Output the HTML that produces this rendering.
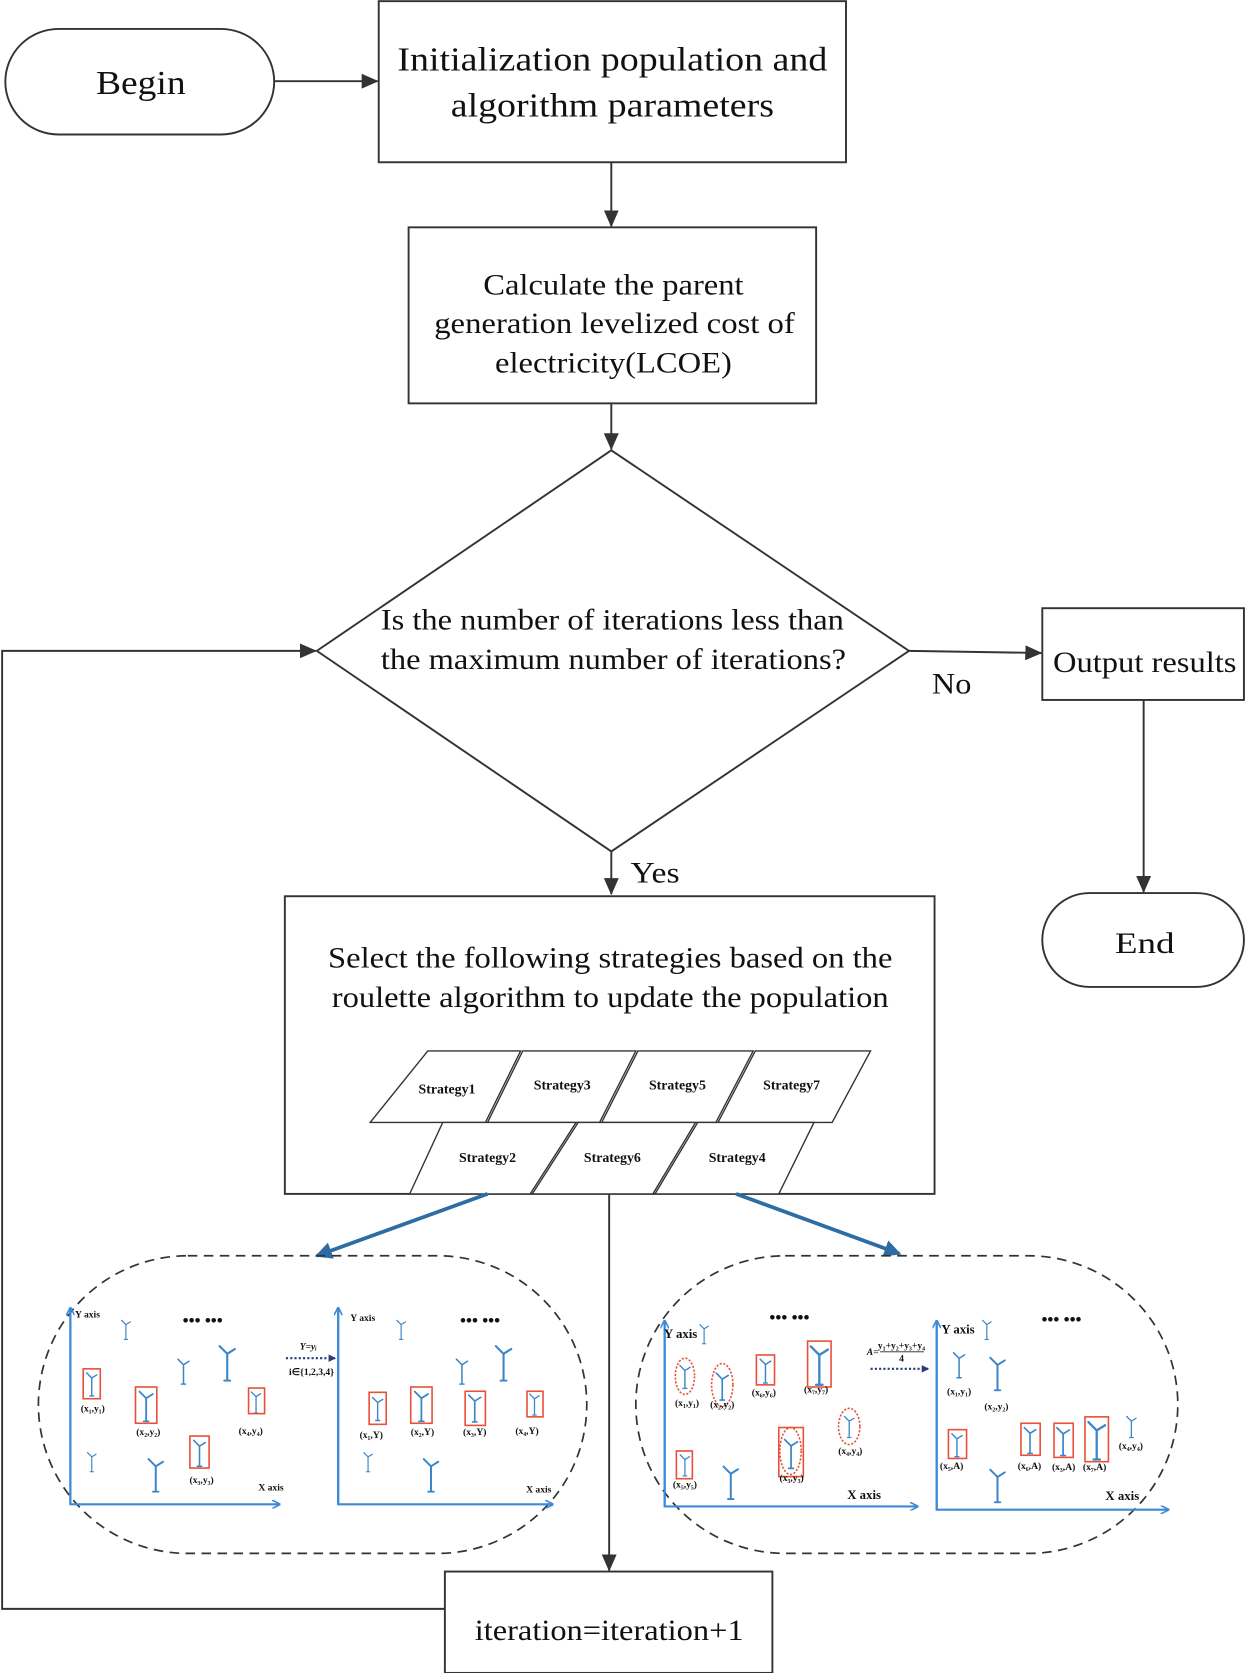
<!DOCTYPE html>
<html><head><meta charset="utf-8"><style>
html,body{margin:0;padding:0;background:#fff;}
svg{display:block;}
text{font-family:"Liberation Serif",serif;fill:#111;}
.s{font-size:13px;font-weight:bold;}
.t{font-size:9px;font-weight:bold;}
</style></head><body>
<svg width="1245" height="1673" viewBox="0 0 1167 1568" xmlns="http://www.w3.org/2000/svg">
<defs>
<marker id="ar" markerWidth="16" markerHeight="14" refX="15" refY="7" orient="auto" markerUnits="userSpaceOnUse"><path d="M0,0 L16,7 L0,14 z" fill="#333"/></marker>
<marker id="ar2" markerWidth="16" markerHeight="16" refX="14" refY="8" orient="auto" markerUnits="userSpaceOnUse"><path d="M0,0 L16,8 L0,16 z" fill="#2e6da4"/></marker>
<marker id="ab" markerWidth="8" markerHeight="8" refX="7" refY="4" orient="auto" markerUnits="userSpaceOnUse"><path d="M0,0 L8,4 L0,8" fill="none" stroke="#3b8ad6" stroke-width="1.5"/></marker>
<marker id="ad" markerWidth="7" markerHeight="7" refX="6" refY="3.5" orient="auto" markerUnits="userSpaceOnUse"><path d="M0,0 L7,3.5 L0,7 z" fill="#2a3a7a"/></marker>
<symbol id="tb" viewBox="0 0 20 40"><g stroke="#3a86c8" stroke-width="2.2" fill="none" stroke-linecap="round"><path d="M10,11 L2,3 M10,11 L18,6 M10,11 L10,39 M7,39 L13,39"/></g></symbol>
</defs>
<g stroke="#333" stroke-width="1.8" fill="none">
<rect x="5" y="27" width="252" height="99" rx="50"/>
<rect x="355" y="1" width="438" height="151"/>
<rect x="383" y="213" width="382" height="165"/>
<polygon points="573,422 852,610 573,798 297,610"/>
<rect x="977" y="570" width="189" height="86"/>
<rect x="977" y="837" width="189" height="88" rx="44"/>
<rect x="267" y="840" width="609" height="279"/>
<rect x="417" y="1473" width="307" height="95"/>
<line x1="257" y1="76" x2="354" y2="76" marker-end="url(#ar)"/>
<line x1="573" y1="152" x2="573" y2="212" marker-end="url(#ar)"/>
<line x1="573" y1="378" x2="573" y2="421" marker-end="url(#ar)"/>
<line x1="852" y1="610" x2="976" y2="612" marker-end="url(#ar)"/>
<line x1="1072" y1="656" x2="1072" y2="836" marker-end="url(#ar)"/>
<line x1="573" y1="798" x2="573" y2="838" marker-end="url(#ar)"/>
<line x1="571" y1="1119" x2="571" y2="1472" marker-end="url(#ar)"/>
<polyline points="417,1508 2,1508 2,610 296,610" marker-end="url(#ar)"/>
</g>
<g stroke="#333" stroke-width="1.3" fill="#fff">
<polygon points="347,1052 401,985 488,985 455,1052"/>
<polygon points="457,1052 490,985 596,985 562,1052"/>
<polygon points="564,1052 598,985 706,985 671,1052"/>
<polygon points="673,1052 708,985 816,985 780,1052"/>
<polygon points="384,1119 415,1052 540,1052 497,1119"/>
<polygon points="499,1119 542,1052 652,1052 612,1119"/>
<polygon points="614,1119 654,1052 763,1052 730,1119"/>
</g>
<g>
<text x="419" y="1025" text-anchor="middle" class="s">Strategy1</text>
<text x="527" y="1021" text-anchor="middle" class="s">Strategy3</text>
<text x="635" y="1021" text-anchor="middle" class="s">Strategy5</text>
<text x="742" y="1021" text-anchor="middle" class="s">Strategy7</text>
<text x="457" y="1089" text-anchor="middle" class="s">Strategy2</text>
<text x="574" y="1089" text-anchor="middle" class="s">Strategy6</text>
<text x="691" y="1089" text-anchor="middle" class="s">Strategy4</text>
</g>
<g font-size="32" text-anchor="middle">
<text x="132" y="88" textLength="84" lengthAdjust="spacingAndGlyphs">Begin</text>
<text x="574" y="66" textLength="403" lengthAdjust="spacingAndGlyphs">Initialization population and</text>
<text x="574" y="109" textLength="303" lengthAdjust="spacingAndGlyphs">algorithm parameters</text>
</g>
<g font-size="28" text-anchor="middle">
<text x="575" y="276" textLength="244" lengthAdjust="spacingAndGlyphs">Calculate the parent</text>
<text x="576" y="312" textLength="338" lengthAdjust="spacingAndGlyphs">generation levelized cost of</text>
<text x="575" y="349" textLength="222" lengthAdjust="spacingAndGlyphs">electricity(LCOE)</text>
<text x="574" y="590" textLength="434" lengthAdjust="spacingAndGlyphs">Is the number of iterations less than</text>
<text x="575" y="627" textLength="436" lengthAdjust="spacingAndGlyphs">the maximum number of iterations?</text>
<text x="1073" y="630" textLength="172" lengthAdjust="spacingAndGlyphs">Output results</text>
<text x="1073" y="893" textLength="56" lengthAdjust="spacingAndGlyphs">End</text>
<text x="892" y="650" textLength="37" lengthAdjust="spacingAndGlyphs">No</text>
<text x="614" y="827" textLength="46" lengthAdjust="spacingAndGlyphs">Yes</text>
<text x="572" y="907" textLength="529" lengthAdjust="spacingAndGlyphs">Select the following strategies based on the</text>
<text x="572" y="944" textLength="522" lengthAdjust="spacingAndGlyphs">roulette algorithm to update the population</text>
<text x="571" y="1537" textLength="252" lengthAdjust="spacingAndGlyphs">iteration=iteration+1</text>
</g>
<line x1="457" y1="1119" x2="297" y2="1177" stroke="#2e6da4" stroke-width="3.5" marker-end="url(#ar2)"/>
<line x1="690" y1="1119" x2="843" y2="1175" stroke="#2e6da4" stroke-width="3.5" marker-end="url(#ar2)"/>
<g stroke="#333" stroke-width="1.6" fill="none" stroke-dasharray="9,6">
<rect x="36" y="1177" width="514" height="279" rx="140"/>
<rect x="596" y="1177" width="508" height="279" rx="140"/>
</g>
<g stroke="#3b8ad6" stroke-width="2" fill="none">
<polyline points="66,1228 66,1410 262,1410" marker-end="url(#ab)"/>
<line x1="66" y1="1410" x2="66" y2="1226" marker-end="url(#ab)"/>
<polyline points="317,1228 317,1410 518,1410" marker-end="url(#ab)"/>
<line x1="317" y1="1410" x2="317" y2="1226" marker-end="url(#ab)"/>
<polyline points="623,1240 623,1412 860,1412" marker-end="url(#ab)"/>
<line x1="623" y1="1412" x2="623" y2="1238" marker-end="url(#ab)"/>
<polyline points="878,1240 878,1415 1095,1415" marker-end="url(#ab)"/>
<line x1="878" y1="1415" x2="878" y2="1238" marker-end="url(#ab)"/>
</g>
<use href="#tb" x="112" y="1236" width="12" height="20"/>
<use href="#tb" x="164" y="1272" width="16" height="26"/>
<use href="#tb" x="202" y="1259" width="22" height="36"/>
<use href="#tb" x="80" y="1284" width="12" height="26"/>
<use href="#tb" x="129" y="1302" width="16" height="31"/>
<use href="#tb" x="180" y="1348" width="14" height="27"/>
<use href="#tb" x="234" y="1303" width="12" height="22"/>
<use href="#tb" x="80" y="1360" width="12" height="20"/>
<use href="#tb" x="137" y="1365" width="18" height="34"/>
<use href="#tb" x="370" y="1236" width="12" height="20"/>
<use href="#tb" x="425" y="1272" width="16" height="26"/>
<use href="#tb" x="461" y="1259" width="22" height="36"/>
<use href="#tb" x="348" y="1306" width="12" height="28"/>
<use href="#tb" x="387" y="1302" width="16" height="31"/>
<use href="#tb" x="438" y="1305" width="14" height="29"/>
<use href="#tb" x="495" y="1305" width="12" height="22"/>
<use href="#tb" x="339" y="1360" width="12" height="20"/>
<use href="#tb" x="395" y="1365" width="18" height="34"/>
<g stroke="#e8503a" stroke-width="1.5" fill="none">
<rect x="78" y="1283" width="16" height="28"/>
<rect x="127" y="1300" width="20" height="34"/>
<rect x="178" y="1346" width="18" height="30"/>
<rect x="233" y="1301" width="15" height="24"/>
<rect x="346" y="1305" width="16" height="30"/>
<rect x="385" y="1300" width="20" height="34"/>
<rect x="436" y="1304" width="19" height="32"/>
<rect x="494" y="1304" width="15" height="24"/>
</g>
<g text-anchor="middle">
<text x="87" y="1323" class="t">(x₁,y₁)</text>
<text x="139" y="1345" class="t">(x₂,y₂)</text>
<text x="189" y="1390" class="t">(x₃,y₃)</text>
<text x="235" y="1344" class="t">(x₄,y₄)</text>
<text x="348" y="1348" class="t">(x₁,Y)</text>
<text x="396" y="1345" class="t">(x₂,Y)</text>
<text x="445" y="1345" class="t">(x₃,Y)</text>
<text x="494" y="1344" class="t">(x₄,Y)</text>
<text x="82" y="1235" class="t">Y axis</text>
<text x="254" y="1397" class="t">X axis</text>
<text x="340" y="1238" class="t">Y axis</text>
<text x="505" y="1399" class="t">X axis</text>
<text x="289" y="1265" class="t" font-style="italic">Y=yᵢ</text>
<text x="292" y="1289" class="t">i∈{1,2,3,4}</text>
</g>
<g font-size="16" font-weight="bold" text-anchor="middle">
<text x="190" y="1243">••• •••</text>
<text x="450" y="1243">••• •••</text>
<text x="740" y="1240">••• •••</text>
<text x="995" y="1242">••• •••</text>
</g>
<line x1="268" y1="1273" x2="314" y2="1273" stroke="#2a3a7a" stroke-width="2" stroke-dasharray="2,2" marker-end="url(#ad)"/>
<line x1="816" y1="1283" x2="870" y2="1283" stroke="#2a3a7a" stroke-width="2" stroke-dasharray="2,2" marker-end="url(#ad)"/>
<use href="#tb" x="654" y="1240" width="12" height="20"/>
<use href="#tb" x="636" y="1278" width="12" height="24"/>
<use href="#tb" x="670" y="1284" width="14" height="30"/>
<use href="#tb" x="711" y="1272" width="13" height="25"/>
<use href="#tb" x="758" y="1259" width="20" height="40"/>
<use href="#tb" x="790" y="1326" width="12" height="22"/>
<use href="#tb" x="734" y="1343" width="15" height="38"/>
<use href="#tb" x="636" y="1362" width="12" height="22"/>
<use href="#tb" x="676" y="1372" width="18" height="34"/>
<use href="#tb" x="919" y="1236" width="12" height="20"/>
<use href="#tb" x="892" y="1266" width="14" height="26"/>
<use href="#tb" x="926" y="1270" width="18" height="34"/>
<use href="#tb" x="890" y="1342" width="14" height="24"/>
<use href="#tb" x="926" y="1375" width="18" height="34"/>
<use href="#tb" x="958" y="1336" width="15" height="27"/>
<use href="#tb" x="989" y="1336" width="15" height="29"/>
<use href="#tb" x="1018" y="1330" width="20" height="39"/>
<use href="#tb" x="1054" y="1326" width="13" height="22"/>
<g stroke="#e8503a" stroke-width="1.5" fill="none">
<ellipse cx="642" cy="1290" rx="9" ry="17" stroke-dasharray="2,1.5"/>
<ellipse cx="677" cy="1298" rx="10" ry="20" stroke-dasharray="2,1.5"/>
<ellipse cx="796" cy="1337" rx="10" ry="17" stroke-dasharray="2,1.5"/>
<ellipse cx="741" cy="1360" rx="10" ry="22" stroke-dasharray="2,1.5"/>
<rect x="709" y="1270" width="17" height="28"/>
<rect x="757" y="1257" width="22" height="43"/>
<rect x="730" y="1338" width="23" height="46"/>
<rect x="634" y="1360" width="15" height="26"/>
<rect x="889" y="1340" width="17" height="27"/>
<rect x="957" y="1334" width="18" height="30"/>
<rect x="988" y="1334" width="18" height="32"/>
<rect x="1017" y="1328" width="22" height="42"/>
</g>
<g text-anchor="middle">
<text x="644" y="1318" class="t" font-size="8">(x₁,y₁)</text>
<text x="677" y="1319" class="t">(x₂,y₂)</text>
<text x="716" y="1308" class="t">(x₆,y₆)</text>
<text x="765" y="1305" class="t">(x₇,y₇)</text>
<text x="797" y="1363" class="t">(x₄,y₄)</text>
<text x="742" y="1388" class="t">(x₃,y₃)</text>
<text x="642" y="1394" class="t">(x₅,y₅)</text>
<text x="899" y="1307" class="t">(x₁,y₁)</text>
<text x="934" y="1321" class="t">(x₂,y₂)</text>
<text x="892" y="1377" class="t">(x₅,A)</text>
<text x="965" y="1377" class="t">(x₆,A)</text>
<text x="997" y="1378" class="t">(x₃,A)</text>
<text x="1026" y="1378" class="t">(x₇,A)</text>
<text x="1060" y="1358" class="t">(x₄,y₄)</text>
<text x="638" y="1254" font-size="12" font-weight="bold">Y axis</text>
<text x="898" y="1250" font-size="12" font-weight="bold">Y axis</text>
<text x="810" y="1405" font-size="12" font-weight="bold">X axis</text>
<text x="1052" y="1406" font-size="12" font-weight="bold">X axis</text>
<text x="818" y="1270" class="t" font-style="italic">A=</text>
<text x="845" y="1264" class="t" font-size="8">y₁+y₂+y₃+y₄</text>
<text x="845" y="1276" class="t" font-size="8">4</text>
</g>
<line x1="825" y1="1267" x2="866" y2="1267" stroke="#222" stroke-width="0.8"/>
</svg>
</body></html>
